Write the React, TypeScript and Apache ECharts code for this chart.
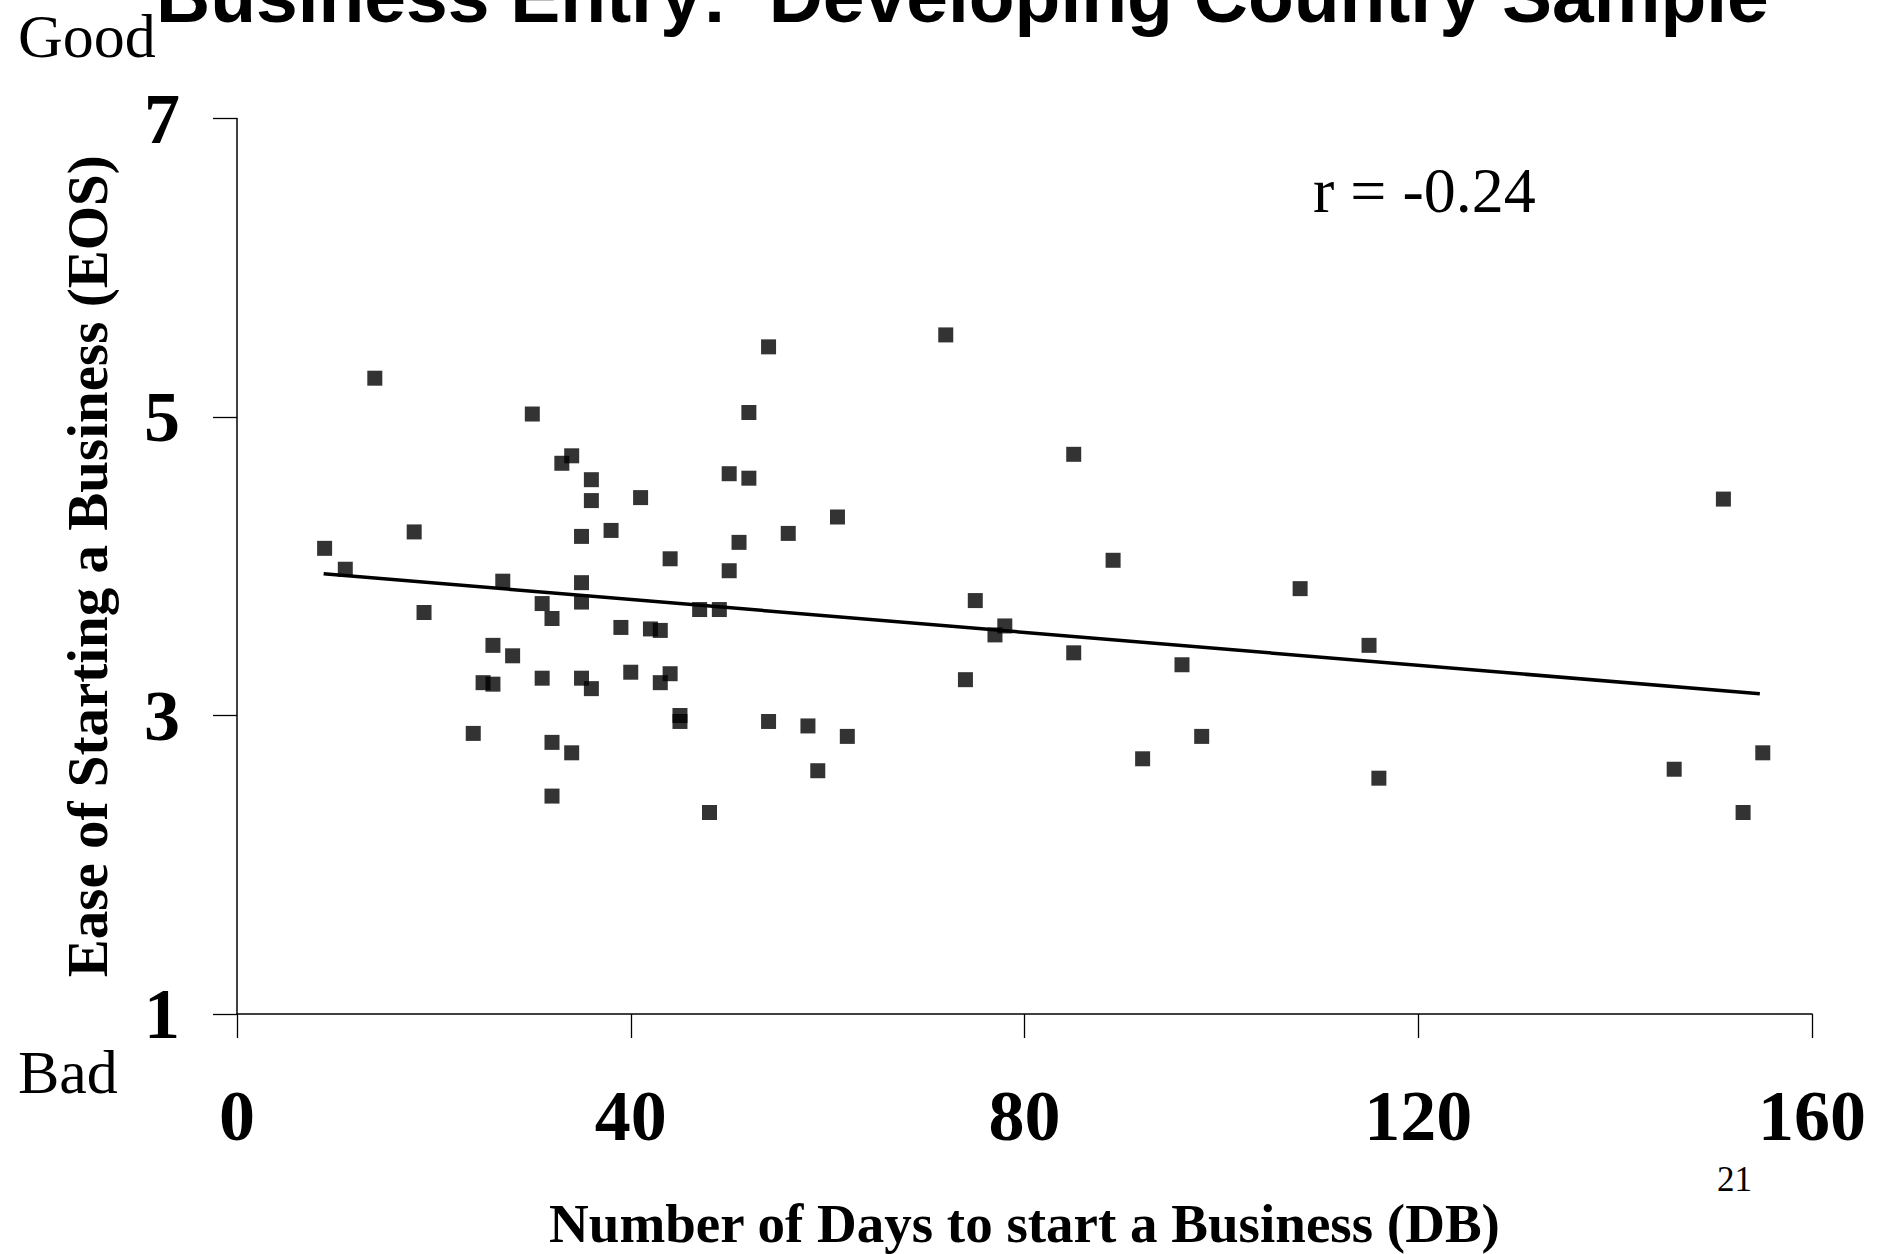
import React, { useEffect, useRef } from "react";
import * as echarts from "echarts";

const days = [8.9, 11, 14, 18, 19, 24, 25, 26, 26, 27, 28, 30, 31, 31, 32, 32, 32, 33, 34, 34, 35, 35, 35, 35, 36, 36, 36, 38, 39, 40, 41, 42, 43, 43, 44, 44, 45, 45, 47, 48, 49, 50, 50, 51, 52, 52, 54, 54, 56, 58, 59, 61, 62, 72, 74, 75, 77, 78, 85, 85, 89, 92, 96, 98, 108, 115, 116, 146, 151, 153, 155];
const eos = [4.12, 3.98, 5.26, 4.23, 3.69, 2.88, 3.22, 3.47, 3.21, 3.9, 3.4, 5.02, 3.75, 3.25, 3.65, 2.82, 2.46, 4.69, 4.74, 2.75, 4.2, 3.89, 3.76, 3.25, 4.58, 4.44, 3.18, 4.24, 3.59, 3.29, 4.46, 3.58, 3.57, 3.22, 4.05, 3.28, 3.0, 2.96, 3.71, 2.35, 3.71, 4.62, 3.97, 4.16, 4.59, 5.03, 5.47, 2.96, 4.22, 2.93, 2.63, 4.33, 2.86, 5.55, 3.24, 3.77, 3.54, 3.6, 4.75, 3.42, 4.04, 2.71, 3.34, 2.86, 3.85, 3.47, 2.58, 2.64, 4.45, 2.35, 2.75];
const trendX = [8.8, 154.7];
const trendY = [3.95, 3.145];
const xTicks = [0, 40, 80, 120, 160];
const yTicks = [1, 3, 5, 7];

const titleText = "Business Entry:  Developing Country Sample";
const xName = "Number of Days to start a Business (DB)";
const yName = "Ease of Starting a Business (EOS)";
const rText = "r = -0.24";
const pageNo = "21";

const SERIF = "'Liberation Serif', 'Times New Roman', serif";
const SANS = "'Liberation Sans', Arial, sans-serif";

export default function App() {
  const ref = useRef<HTMLDivElement>(null);
  useEffect(() => {
    if (!ref.current) return;
    const chart = echarts.init(ref.current, null, { renderer: "svg" });
    const points = days.map((d, i) => [d, eos[i]]);
    const trend = trendX.map((x, i) => [x, trendY[i]]);
    chart.setOption({
      animation: false,
      backgroundColor: "#ffffff",
      grid: {
        left: 237,
        right: 68,
        top: 118.5,
        bottom: 240,
        containLabel: false,
        outerBoundsMode: "none",
      },
      xAxis: {
        type: "value",
        min: xTicks[0],
        max: xTicks[xTicks.length - 1],
        interval: 40,
        name: xName,
        nameLocation: "middle",
        nameGap: 187,
        nameTextStyle: { fontFamily: SERIF, fontWeight: "bold", fontSize: 55, lineHeight: 44, color: "#000" },
        axisLine: { show: true, onZero: false, lineStyle: { color: "#000", width: 1.5 } },
        axisTick: { show: true, inside: false, length: 24, lineStyle: { color: "#000", width: 1.3 } },
        axisLabel: { fontFamily: SERIF, fontWeight: "bold", fontSize: 72, color: "#000", margin: 66 },
        splitLine: { show: false },
      },
      yAxis: {
        type: "value",
        min: yTicks[0],
        max: yTicks[yTicks.length - 1],
        interval: 2,
        name: yName,
        nameLocation: "middle",
        nameGap: 121,
        nameRotate: 90,
        nameTextStyle: { fontFamily: SERIF, fontWeight: "bold", fontSize: 57, color: "#000" },
        axisLine: { show: true, onZero: false, lineStyle: { color: "#000", width: 1.5 } },
        axisTick: { show: true, inside: false, length: 24, lineStyle: { color: "#000", width: 1.3 } },
        axisLabel: { fontFamily: SERIF, fontWeight: "bold", fontSize: 72, color: "#000", margin: 57 },
        splitLine: { show: false },
      },
      series: [
        {
          type: "scatter",
          data: points,
          symbol: "rect",
          symbolSize: 15,
          itemStyle: { color: "#000" },
          z: 3,
        },
        {
          type: "line",
          data: trend,
          symbol: "none",
          lineStyle: { color: "#000", width: 3.5 },
          z: 2,
        },
      ],
      graphic: [
        {
          type: "text",
          left: 156,
          top: -42,
          style: { text: titleText, font: `bold 75px ${SANS}`, fill: "#000" },
        },
        {
          type: "text",
          x: 18,
          y: 11,
          style: { text: "Good", font: `62px ${SERIF}`, lineHeight: 50, fill: "#000" },
        },
        {
          type: "text",
          x: 18,
          y: 1041,
          style: { text: "Bad", font: `62px ${SERIF}`, fill: "#000" },
        },
        {
          type: "text",
          x: 1313,
          y: 158,
          style: { text: rText, font: `64px ${SERIF}`, fill: "#000" },
        },
        {
          type: "text",
          x: 1717,
          y: 1162,
          style: { text: pageNo, font: `35px ${SERIF}`, fill: "#000" },
        },
      ],
    });
    return () => chart.dispose();
  }, []);
  return (
    <div
      ref={ref}
      style={{ position: "fixed", left: 0, top: 0, width: 1880, height: 1254, background: "#fff" }}
    />
  );
}
